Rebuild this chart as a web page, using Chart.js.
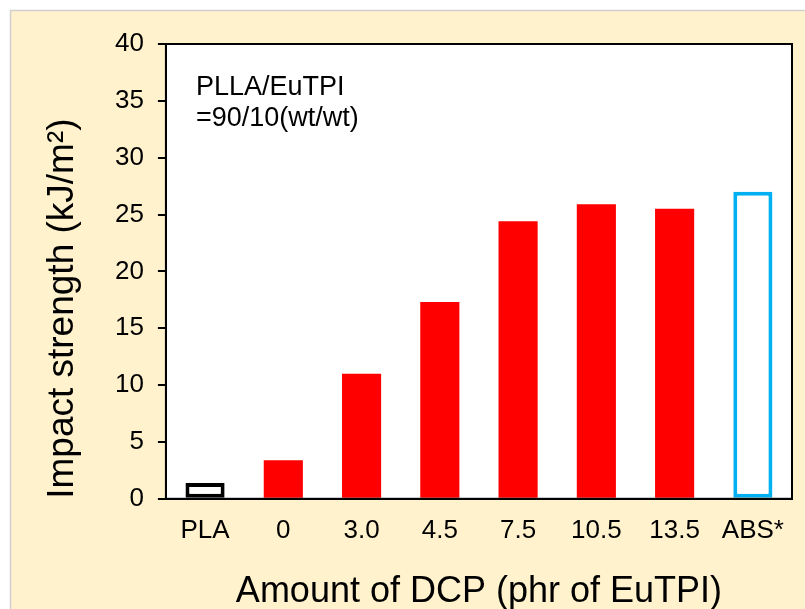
<!DOCTYPE html>
<html>
<head>
<meta charset="utf-8">
<script src="https://cdn.jsdelivr.net/npm/chart.js@4/dist/chart.umd.min.js"></script>
<style>
  html, body { margin: 0; padding: 0; background: #fff; }
  #wrap { width: 805px; height: 609px; }
</style>
</head>
<body>
<div id="wrap"><canvas id="barChart"></canvas></div>
<script>
const categories = ["PLA", "0", "3.0", "4.5", "7.5", "10.5", "13.5", "ABS*"];
const impactStrength = [1.4, 3.4, 11.0, 17.3, 24.4, 25.9, 25.5, 27.0];
const yTicks = [0, 5, 10, 15, 20, 25, 30, 35, 40];
const noteLines = ["PLLA/EuTPI", "=90/10(wt/wt)"];

const FONT = "'Liberation Sans', Arial, sans-serif";

const fills = ["#FFFFFF", "#FF0000", "#FF0000", "#FF0000", "#FF0000", "#FF0000", "#FF0000", "#FFFFFF"];
const edges = ["#000000", "#FF0000", "#FF0000", "#FF0000", "#FF0000", "#FF0000", "#FF0000", "#00B0F0"];
const edgeWidths = [4, 0, 0, 0, 0, 0, 0, 4];

const panel = {
  id: 'panel',
  beforeDraw(chart) {
    const c = chart.ctx;
    c.save();
    c.fillStyle = "#FFFFFF";
    c.fillRect(0, 0, chart.width, chart.height);
    c.fillStyle = "#FFF2CC";
    c.fillRect(10, 10, chart.width - 10, chart.height - 10);
    c.strokeStyle = "#D0D0D0";
    c.lineWidth = 1.5;
    c.beginPath();
    c.moveTo(10.5, chart.height);
    c.lineTo(10.5, 10.5);
    c.lineTo(chart.width, 10.5);
    c.stroke();
    const a = chart.chartArea;
    c.fillStyle = "#FFFFFF";
    c.fillRect(a.left, a.top, a.right - a.left, a.bottom - a.top);
    c.restore();
  },
  afterDraw(chart) {
    const c = chart.ctx;
    const a = chart.chartArea;
    c.save();
    c.strokeStyle = "#000";
    c.lineWidth = 2;
    c.strokeRect(a.left, a.top, a.right - a.left, a.bottom - a.top);
    c.fillStyle = "#000";
    c.font = "27px " + FONT;
    c.textBaseline = "alphabetic";
    c.fillText(noteLines[0], a.left + 30, a.top + 51);
    c.fillText(noteLines[1], a.left + 30, a.top + 82);
    c.restore();
  }
};

new Chart(document.getElementById('barChart'), {
  type: 'bar',
  data: {
    labels: categories,
    datasets: [{
      data: impactStrength,
      backgroundColor: fills,
      borderColor: edges,
      borderWidth: edgeWidths,
      borderSkipped: false,
      barPercentage: 0.5,
      categoryPercentage: 1.0
    }]
  },
  options: {
    responsive: true,
    maintainAspectRatio: false,
    animation: false,
    layout: { padding: { left: 44, right: 13, top: 44, bottom: -1 } },
    plugins: { legend: { display: false }, tooltip: { enabled: false } },
    scales: {
      x: {
        grid: { display: false },
        border: { display: true, color: "#000", width: 2 },
        ticks: { color: "#000", padding: 8, font: { size: 26, family: FONT } },
        title: {
          display: true,
          text: "Amount of DCP (phr of EuTPI)",
          color: "#000",
          padding: { top: 20, bottom: 0 },
          font: { size: 36, family: FONT, lineHeight: 1 }
        }
      },
      y: {
        min: 0,
        max: 40,
        afterBuildTicks(axis) { axis.ticks = yTicks.map(v => ({ value: v })); },
        grid: { drawOnChartArea: false, drawTicks: true, tickLength: 8, color: "#000", lineWidth: 2 },
        border: { display: true, color: "#000", width: 2 },
        ticks: { color: "#000", padding: 14, font: { size: 26, family: FONT } },
        title: {
          display: true,
          align: 'start',
          text: "Impact strength (kJ/m²)",
          color: "#000",
          padding: { top: 0, bottom: 20 },
          font: { size: 37, family: FONT, lineHeight: 1 }
        }
      }
    }
  },
  plugins: [panel]
});
</script>
</body>
</html>
